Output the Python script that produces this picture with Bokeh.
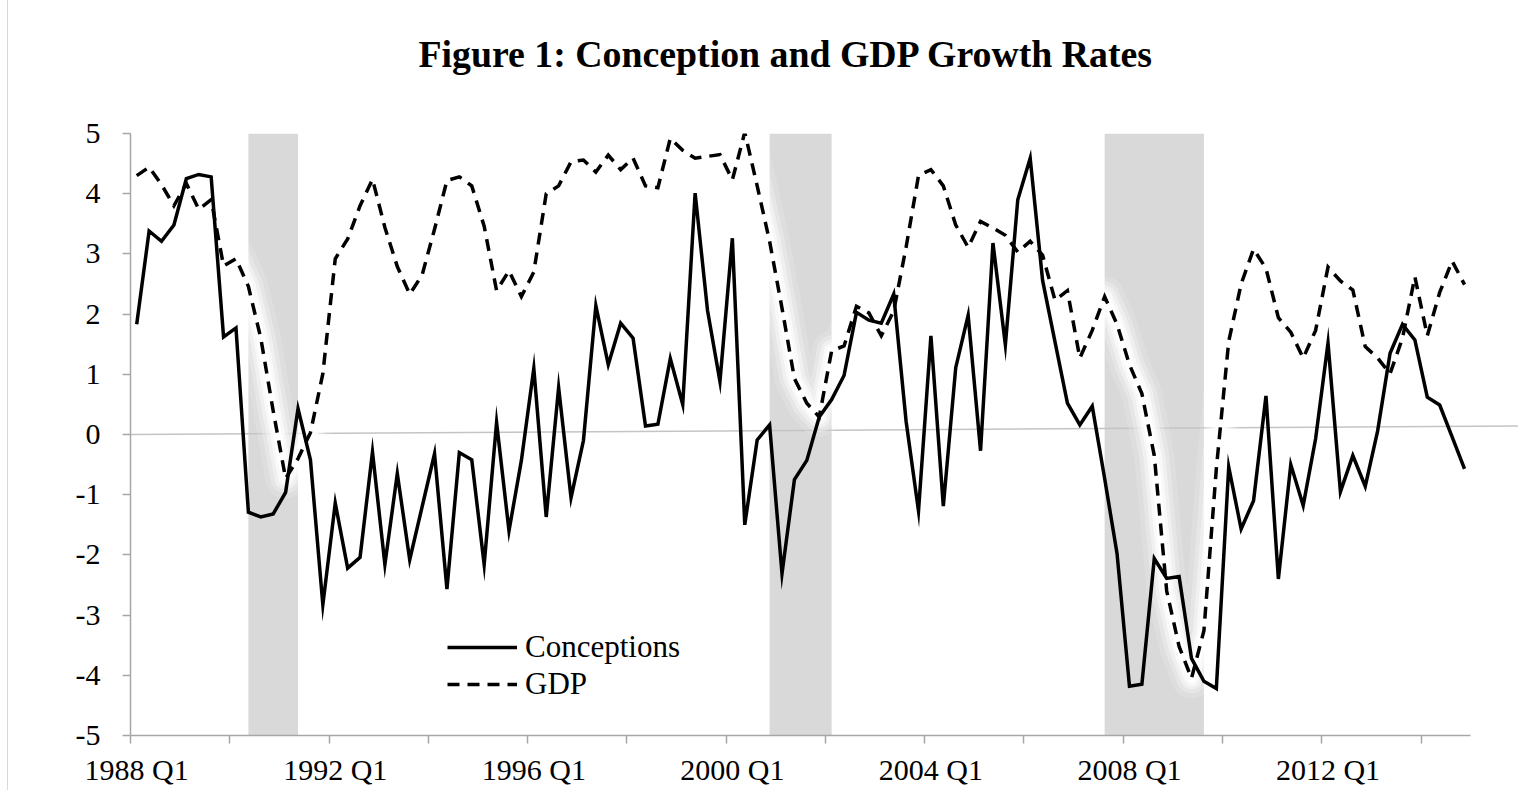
from bokeh.plotting import figure
from bokeh.models import Range1d, FixedTicker, LinearAxis, Legend, LegendItem, Title
from bokeh.embed import file_html
from bokeh.resources import INLINE

# ---------------- data ----------------
quarters = [f"{1988 + k // 4} Q{k % 4 + 1}" for k in range(108)]

conceptions = [
    1.83, 3.38, 3.21, 3.48, 4.25, 4.32, 4.28, 1.62, 1.77, -1.29,
    -1.37, -1.32, -0.96, 0.43, -0.42, -2.83, -1.14, -2.22, -2.04, -0.29,
    -2.16, -0.65, -2.08, -1.20, -0.32, -2.57, -0.30, -0.42, -2.16, 0.20,
    -1.60, -0.43, 1.10, -1.37, 0.78, -1.05, -0.10, 2.14, 1.16, 1.85,
    1.60, 0.14, 0.17, 1.26, 0.50, 4.01, 2.06, 0.88, 3.26, -1.50,
    -0.09, 0.16, -2.31, -0.75, -0.43, 0.29, 0.58, 0.98, 2.03, 1.90,
    1.85, 2.33, 0.22, -1.27, 1.64, -1.19, 1.11, 1.98, -0.27, 3.18,
    1.49, 3.90, 4.59, 2.56, 1.54, 0.52, 0.16, 0.47, -0.73, -1.98,
    -4.18, -4.15, -2.06, -2.39, -2.36, -3.72, -4.10, -4.22, -0.54, -1.57,
    -1.10, 0.64, -2.40, -0.50, -1.18, -0.07, 1.52, -0.95, -0.35, -0.86,
    0.06, 1.35, 1.83, 1.57, 0.62, 0.49, -0.04, -0.57,
]

gdp = [
    4.30, 4.44, 4.15, 3.80, 4.17, 3.74, 3.90, 2.80, 2.92, 2.46,
    1.60, 0.39, -0.73, -0.40, 0.03, 1.01, 2.92, 3.25, 3.80, 4.24,
    3.44, 2.79, 2.33, 2.65, 3.41, 4.22, 4.28, 4.13, 3.46, 2.39,
    2.72, 2.29, 2.70, 4.00, 4.13, 4.53, 4.56, 4.36, 4.64, 4.40,
    4.59, 4.13, 4.10, 4.92, 4.72, 4.59, 4.62, 4.65, 4.23, 5.02,
    4.13, 3.21, 2.10, 0.93, 0.52, 0.29, 1.39, 1.47, 2.13, 2.02,
    1.64, 2.05, 3.11, 4.30, 4.40, 4.13, 3.48, 3.11, 3.54, 3.43,
    3.31, 3.03, 3.21, 2.98, 2.23, 2.39, 1.27, 1.73, 2.29, 1.83,
    1.16, 0.68, -0.35, -2.60, -3.52, -4.05, -3.26, -0.57, 1.55, 2.50,
    3.08, 2.76, 1.94, 1.70, 1.27, 1.73, 2.78, 2.55, 2.40, 1.46,
    1.27, 1.01, 1.60, 2.62, 1.64, 2.36, 2.88, 2.49,
]

tick_label_quarters = ["1988 Q1", "1992 Q1", "1996 Q1", "2000 Q1",
                       "2004 Q1", "2008 Q1", "2012 Q1"]
y_ticks = [-5, -4, -3, -2, -1, 0, 1, 2, 3, 4, 5]

# shaded recession periods (quarters at the edges of the grey bands)
rec_start = ["1990 Q2", "2000 Q4", "2007 Q3"]
rec_end = ["1991 Q2", "2002 Q1", "2009 Q3"]

zero_line_drift = 0.14   # the zero reference line rises slightly to the right

series_names = ["Conceptions", "GDP"]
title_text = "Figure 1: Conception and GDP Growth Rates"

# ---------------- styles ----------------
FONT = "Liberation Serif"
AXIS_COLOR = "#a6a6a6"
SHADE_COLOR = "#d9d9d9"

x_idx = list(range(len(quarters)))
X_START = -0.5
X_END = 111.35
Y_MIN, Y_MAX = -5, 5

p = figure(width=1518, height=790,
           x_range=Range1d(X_START, X_END), y_range=Range1d(Y_MIN, Y_MAX),
           output_backend="svg", toolbar_location=None,
           x_axis_type=None, y_axis_type=None,
           min_border_left=130, min_border_right=0,
           min_border_top=133, min_border_bottom=55)
p.outline_line_color = None
p.background_fill_color = "white"
p.border_fill_color = None
p.xgrid.visible = False
p.ygrid.visible = False
p.styles = {"box-shadow": "inset 7px 0 0 0 white, inset 8px 0 0 0 #d9d9d9",
            "background-color": "white"}

# recession shading
lefts = [quarters.index(q) for q in rec_start]
rights = [quarters.index(q) for q in rec_end]
p.quad(left=lefts, right=rights, bottom=[Y_MIN] * len(lefts), top=[Y_MAX] * len(lefts),
       fill_color=SHADE_COLOR, line_color=None)

# zero reference line
p.segment(x0=[X_START], y0=[0], x1=[X_END], y1=[zero_line_drift],
          line_color="#c4c4c4", line_width=1.5)

# soft white glow around the GDP line
for w, a in [(40, 0.15), (30, 0.25), (22, 0.4), (15, 0.6), (9, 0.9)]:
    p.line(x_idx, gdp, line_color="white", line_width=w, line_alpha=a,
           line_join="round", line_cap="round")

r_con = p.line(x_idx, conceptions, line_color="black", line_width=3.5,
               line_join="miter")
r_gdp = p.line(x_idx, gdp, line_color="black", line_width=3.5,
               line_dash="12 8", line_join="miter")

# ---------------- axes ----------------
yaxis = LinearAxis(ticker=FixedTicker(ticks=y_ticks),
                   major_label_overrides={t: str(t) for t in y_ticks},
                   bounds=(Y_MIN, Y_MAX),
                   axis_line_color=AXIS_COLOR, axis_line_width=1.5,
                   major_tick_line_color=AXIS_COLOR, major_tick_line_width=1.5,
                   major_tick_out=8, major_tick_in=0,
                   minor_tick_line_color=None,
                   major_label_standoff=22,
                   major_label_text_font=FONT, major_label_text_font_size="30px",
                   major_label_text_color="black")
p.add_layout(yaxis, "left")

boundary_ticks = [X_START + 8 * k for k in range(14)]
xaxis_ticks = LinearAxis(ticker=FixedTicker(ticks=boundary_ticks),
                         major_label_overrides={t: "" for t in boundary_ticks},
                         bounds=(X_START, len(quarters) - 0.5),
                         axis_line_color=AXIS_COLOR, axis_line_width=1.5,
                         major_tick_line_color=AXIS_COLOR, major_tick_line_width=1.5,
                         major_tick_out=8, major_tick_in=0,
                         minor_tick_line_color=None,
                         major_label_standoff=0,
                         major_label_text_font_size="1px")
p.add_layout(xaxis_ticks, "below")

label_pos = [quarters.index(q) for q in tick_label_quarters]
xaxis_labels = LinearAxis(ticker=FixedTicker(ticks=label_pos),
                          major_label_overrides={t: q for t, q in zip(label_pos, tick_label_quarters)},
                          axis_line_color=None,
                          major_tick_line_color=None, major_tick_out=0, major_tick_in=0,
                          minor_tick_line_color=None,
                          major_label_standoff=9,
                          major_label_text_font=FONT, major_label_text_font_size="30px",
                          major_label_text_color="black")
p.add_layout(xaxis_labels, "below")

# invisible spacer panel between the frame and the title
spacer = LinearAxis(ticker=FixedTicker(ticks=[0]),
                    major_label_overrides={0: " "},
                    axis_line_color=None, major_tick_line_color=None,
                    major_tick_out=0, major_tick_in=0, minor_tick_line_color=None,
                    major_label_standoff=50, major_label_text_font_size="1px")
p.add_layout(spacer, "above")

# ---------------- title ----------------
p.add_layout(Title(text=title_text, text_font=FONT, text_font_style="bold",
                   text_font_size="37.8px", text_color="black",
                   align="left", offset=288, standoff=10), "above")

# ---------------- legend ----------------
legend = Legend(items=[LegendItem(label=series_names[0], renderers=[r_con]),
                       LegendItem(label=series_names[1], renderers=[r_gdp])],
                location=(317, 33), orientation="vertical",
                glyph_width=70, glyph_height=30, label_height=30,
                spacing=1, padding=0, margin=0, label_standoff=8,
                label_text_font=FONT, label_text_font_size="31px",
                label_text_color="black",
                border_line_color=None, background_fill_alpha=0)
p.add_layout(legend)

open("out.html", "w").write(file_html(p, INLINE))
